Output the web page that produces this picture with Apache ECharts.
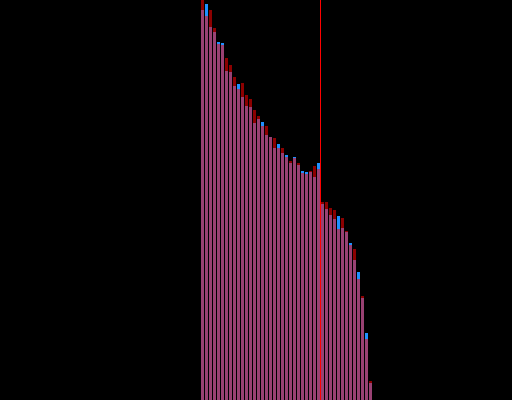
<!DOCTYPE html>
<html>
<head>
<meta charset="utf-8">
<script src="https://cdn.jsdelivr.net/npm/echarts@6/dist/echarts.min.js"></script>
<style>
html,body{margin:0;padding:0;background:#000;}
#chart{width:512px;height:400px;}
</style>
</head>
<body>
<div id="chart"></div>
<script>
// Category indices (43 ranked items)
var categories = [];
for (var i = 0; i < 43; i++) categories.push(String(i + 1));

// Series A (blue) values
var seriesA = [390, 396, 373, 368, 358, 357, 329, 328, 314, 316,
               303, 294, 293, 277, 281, 278, 265, 263, 252, 256,
               247, 245, 237, 243, 235, 229, 228, 228, 223, 237,
               196, 191, 185, 181, 184, 172, 168, 157, 140, 128,
               102, 67, 17];
// Series B (red) values
var seriesB = [400, 384, 390, 372, 356, 355, 342, 335, 323, 311,
               317, 305, 301, 290, 284, 274, 274, 263, 262, 252,
               252, 243, 239, 242, 237, 227, 226, 229, 234, 231,
               198, 198, 192, 190, 171, 182, 169, 155, 151, 121,
               104, 61, 19];
// Cutoff position (category boundary)
var cutoff = [30];

var chart = echarts.init(document.getElementById('chart'), null, {renderer: 'canvas'});
chart.setOption({
  backgroundColor: '#000000',
  animation: false,
  grid: {left: 200.5, width: 172, top: 0, bottom: 0},
  xAxis: [
    {type: 'category', data: categories, show: false, boundaryGap: true},
    {type: 'value', min: 0, max: categories.length, show: false}
  ],
  yAxis: {type: 'value', min: 0, max: 400, show: false},
  series: [
    {
      name: 'A', type: 'bar', data: seriesA, barWidth: 3, barGap: '-100%',
      itemStyle: {color: '#1e90ff'}
    },
    {
      name: 'B', type: 'bar', data: seriesB, barWidth: 3, barGap: '-100%',
      itemStyle: {color: '#ff0000', opacity: 0.55}
    },
    {
      name: 'cutoff', type: 'scatter', xAxisIndex: 1, data: [],
      markLine: {
        silent: true, symbol: 'none', animation: false,
        label: {show: false},
        lineStyle: {color: '#ff0000', width: 1, type: 'solid'},
        data: cutoff.map(function (c) { return {xAxis: c}; })
      }
    }
  ]
});
</script>
</body>
</html>
